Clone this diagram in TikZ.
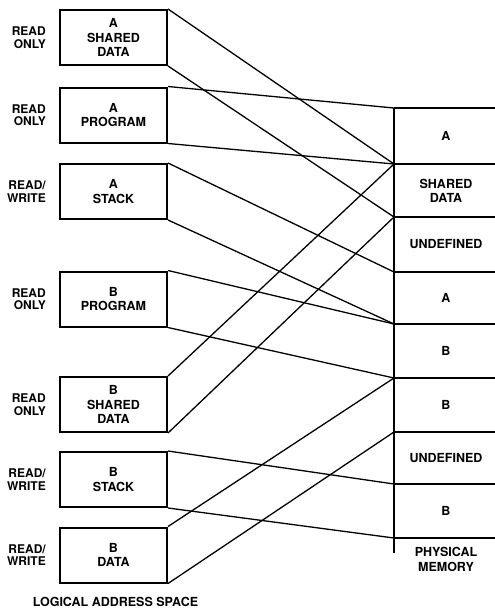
\documentclass[tikz,border=0pt]{standalone}
\usepackage{fontspec}
\setmainfont{TeX Gyre Heros}
\begin{document}
\begin{tikzpicture}[x=1pt,y=-1pt]
	% Styles
	\tikzstyle{boite}=[draw,line width=2pt,minimum width=107pt,minimum height=55pt,inner sep=0pt,align=center,font=\fontsize{12.5}{14.5}\selectfont\bfseries]
	\tikzstyle{acces}=[anchor=east,inner sep=0pt,align=right,font=\fontsize{12}{12.5}\selectfont\bfseries]
	\tikzstyle{case}=[inner sep=0pt,align=center,font=\fontsize{12.5}{14}\selectfont\bfseries]
	\tikzstyle{titre}=[inner sep=0pt,align=center,font=\fontsize{12.5}{15}\selectfont\bfseries]
	\tikzstyle{lien}=[-,line width=1.3pt]
	\tikzstyle{bord}=[line width=2pt]
	% Dimensions
	\def\ColLogique{113.5}
	\def\ColAcces{46}
	\def\ColPhysique{394}
	\def\ColCase{446}
	\def\BordDroit{495}
	\useasboundingbox (0,0) rectangle (495,608);
	% Espace logique
	\node[boite] (ASD) at (\ColLogique,37.5) {A\\SHARED\\DATA};
	\node[boite] (APG) at (\ColLogique,115) {A\\PROGRAM};
	\node[boite] (AST) at (\ColLogique,191.5) {A\\STACK};
	\node[boite] (BPG) at (\ColLogique,299) {B\\PROGRAM};
	\node[boite] (BSD) at (\ColLogique,404.5) {B\\SHARED\\DATA};
	\node[boite] (BST) at (\ColLogique,479.5) {B\\STACK};
	\node[boite] (BDT) at (\ColLogique,555) {B\\DATA};
	%
	\node[acces] (dASD) at (\ColAcces,37.5) {READ\\ONLY};
	\node[acces] (dAPG) at (\ColAcces,115) {READ\\ONLY};
	\node[acces] (dAST) at (\ColAcces,191.5) {READ/\\WRITE};
	\node[acces] (dBPG) at (\ColAcces,299) {READ\\ONLY};
	\node[acces] (dBSD) at (\ColAcces,404.5) {READ\\ONLY};
	\node[acces] (dBST) at (\ColAcces,479.5) {READ/\\WRITE};
	\node[acces] (dBDT) at (\ColAcces,555) {READ/\\WRITE};
	\node[titre] (logique) at (115.5,602) {LOGICAL ADDRESS SPACE};
	% Memoire physique
	\coordinate (P0) at (\ColPhysique,108);
	\coordinate (P1) at (\ColPhysique,164);
	\coordinate (P2) at (\ColPhysique,217);
	\coordinate (P3) at (\ColPhysique,272);
	\coordinate (P4) at (\ColPhysique,324);
	\coordinate (P5) at (\ColPhysique,378);
	\coordinate (P6) at (\ColPhysique,432);
	\coordinate (P7) at (\ColPhysique,484);
	\coordinate (P8) at (\ColPhysique,538);
	\coordinate (Pbas) at (\ColPhysique,553);
	\draw[bord] (P0)--(Pbas);
	\foreach \i in {0,...,8}
		\draw[bord] (P\i)--(\BordDroit,0|-P\i);
	%
	\node[case] (MA) at (\ColCase,136) {A};
	\node[case] (MSD) at (\ColCase,190.5) {SHARED\\DATA};
	\node[case] (MUa) at (\ColCase,244.5) {UNDEFINED};
	\node[case] (MAb) at (\ColCase,298) {A};
	\node[case] (MB) at (\ColCase,351) {B};
	\node[case] (MBb) at (\ColCase,405) {B};
	\node[case] (MUb) at (\ColCase,458) {UNDEFINED};
	\node[case] (MBc) at (\ColCase,511) {B};
	\node[titre] (physique) at (\ColCase,559.5) {PHYSICAL\\MEMORY};
	% Liens
	\draw[lien] (ASD.north east)--(P1);
	\draw[lien] (ASD.south east)--(P2);
	\draw[lien] (APG.north east)--(P0);
	\draw[lien] (APG.south east)--(P1);
	\draw[lien] (AST.north east)--(P3);
	\draw[lien] (AST.south east)--(P4);
	\draw[lien] (BPG.north east)--(P4);
	\draw[lien] (BPG.south east)--(P5);
	\draw[lien] (BSD.north east)--(P1);
	\draw[lien] (BSD.south east)--(P2);
	\draw[lien] (BST.north east)--(P7);
	\draw[lien] (BST.south east)--(P8);
	\draw[lien] (BDT.north east)--(P5);
	\draw[lien] (BDT.south east)--(P6);
\end{tikzpicture}
\end{document}
